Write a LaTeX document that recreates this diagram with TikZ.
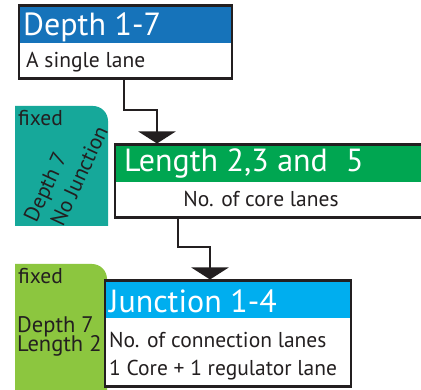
\documentclass[tikz,border=0pt]{standalone}
\usepackage{fontspec}
\setmainfont{PT Sans}
\usetikzlibrary{arrows.meta,calc}
\definecolor{hdrblue}{RGB}{22,115,186}
\definecolor{hdrgreen}{RGB}{0,166,81}
\definecolor{hdrcyan}{RGB}{0,174,239}
\definecolor{fixteal}{RGB}{22,168,154}
\definecolor{fixlime}{RGB}{140,198,63}
\definecolor{ink}{RGB}{35,31,32}
\begin{document}
\begin{tikzpicture}[x=1pt,y=-1pt,
  frame/.style={draw=ink, line width=2.6pt, inner sep=0, anchor=north west},
  hdr/.style={inner sep=0, anchor=north west},
  title/.style={text=white, font=\fontsize{32}{34}\selectfont, inner sep=0, anchor=base west},
  body/.style={text=ink, font=\fontsize{21.5}{24}\selectfont, inner sep=0, anchor=base west},
  side/.style={text=ink, font=\fontsize{22.5}{24}\selectfont, inner sep=0},
  conn/.style={draw=ink, line width=2.6pt, -{Triangle[width=37pt,length=12pt]}}
]
\clip (0,0) rectangle (421,390);
\fill[white] (0,0) rectangle (421,390);
% side boxes
\fill[fixteal] (15,226) -- (15,106) [rounded corners=15pt] -- (108,106) [sharp corners] -- (108,226) -- cycle;
\fill[fixlime] (15,395) -- (15,264) [rounded corners=15pt] -- (107,264) [sharp corners] -- (107,395) -- cycle;
% headers
\node[hdr, fill=hdrblue, minimum width=213pt, minimum height=38.5pt] (h1) at (17.5,4.5) {};
\node[hdr, fill=hdrgreen, minimum width=312pt, minimum height=38.5pt] (h2) at (113.5,143.5) {};
\node[hdr, fill=white, minimum width=246pt, minimum height=106pt] (w3) at (103.5,279.5) {};
\node[hdr, fill=hdrcyan, minimum width=246pt, minimum height=38pt] (h3) at (103.5,279.5) {};
% frames
\node[frame, minimum width=213pt, minimum height=73pt] (b1) at (17.5,4.5) {};
\node[frame, minimum width=312pt, minimum height=73pt] (b2) at (113.5,143.5) {};
\node[frame, minimum width=246pt, minimum height=106pt] (b3) at (103.5,279.5) {};
% connectors
\coordinate (k1) at (157,110);
\coordinate (k2) at (210,247);
\draw[conn] ([xshift=106.5pt]b1.south west) |- (k1) -- (k1 |- b2.north);
\draw[conn] ([xshift=64.5pt]b2.south west) |- (k2) -- (k2 |- b3.north);
% texts
\node[title] (t1) at (23,36) {Depth 1-7};
\node[body] (s1) at (26,68) {A single lane};
\node[title] (t2) at (124,172) {Length 2,3 and\hspace{0.3em} 5};
\node[body, anchor=base] (s2) at (261,207) {No. of core lanes};
\node[title] (t3) at (109,313) {Junction 1-4};
\node[body] (s3) at (109,348) {No. of connection lanes};
\node[body] (s4) at (109,376) {1 Core + 1 regulator lane};
\node[side, anchor=base west, font=\fontsize{21.5}{22}\selectfont] (f1) at (18,126) {fixed};
\node[side, anchor=base west, font=\fontsize{21.5}{22}\selectfont] (f2) at (18,284) {fixed};
\node[side, anchor=base west] (l1) at (17,333) {Depth 7};
\node[side, anchor=base west] (l2) at (17,352) {Length 2};
\node[side, rotate=65, font=\fontsize{21.5}{24}\selectfont] (r1) at (47,188) {Depth 7};
\node[side, rotate=65, font=\fontsize{21.5}{24}\selectfont] (r2) at (79,176) {No Junction};
\end{tikzpicture}
\end{document}
